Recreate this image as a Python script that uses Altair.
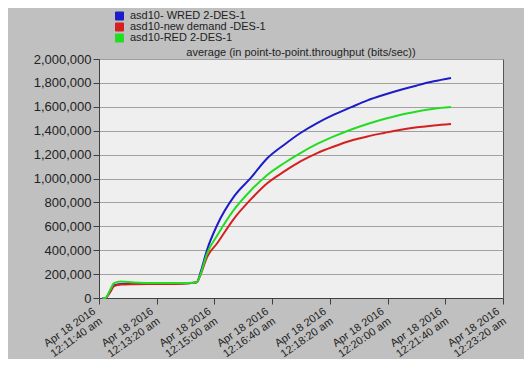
import altair as alt
import pandas as pd

# seconds after 12:11:40 am, Apr 18 2016
t_sec = [6, 11, 20, 26, 38, 60, 100, 140, 165, 170, 176, 187, 205, 234, 263,
         292, 321, 349, 378, 407, 436, 465, 494, 523, 551, 580, 610]

wred = [0, 0, 60000, 105000, 118000, 120000, 120000, 122000, 128000, 135000, 215000,
        400000, 613000, 850000, 1005000, 1171000, 1283000, 1381000, 1464000, 1534000,
        1595000, 1654000, 1701000, 1743000, 1779000, 1813000, 1841000]
new_demand = [0, 0, 55000, 100000, 112000, 115000, 117000, 120000, 127000, 135000, 195000,
              340000, 460000, 665000, 825000, 962000, 1059000, 1143000, 1213000, 1268000,
              1316000, 1352000, 1381000, 1408000, 1428000, 1444000, 1456000]
red = [0, 0, 75000, 125000, 138000, 130000, 125000, 125000, 128000, 135000, 200000,
       370000, 525000, 740000, 900000, 1032000, 1130000, 1213000, 1289000, 1352000,
       1408000, 1456000, 1498000, 1534000, 1561000, 1584000, 1598000]

series_names = ["asd10- WRED  2-DES-1", "asd10-new demand -DES-1", "asd10-RED 2-DES-1"]
series_colors = ["#1c1cc8", "#d42020", "#22dd22"]
tick_seconds = [0, 100, 200, 300, 400, 500, 600, 700]

base_time = pd.Timestamp("2016-04-18T00:11:40")

def ts(s):
    return (base_time + pd.Timedelta(seconds=s)).strftime("%Y-%m-%dT%H:%M:%S")

rows = []
for name, vals in zip(series_names, [wred, new_demand, red]):
    for t, v in zip(t_sec, vals):
        rows.append({"time": ts(t), "value": v, "series": name})
df = pd.DataFrame(rows)

tick_values = [alt.DateTime(year=2016, month=4, date=18, hours=0,
                            minutes=11 + (40 + s) // 60, seconds=(40 + s) % 60)
               for s in tick_seconds]
domain = [tick_values[0], tick_values[-1]]

base = alt.Chart(df).encode(
    x=alt.X("time:T",
            scale=alt.Scale(domain=domain, nice=False),
            axis=alt.Axis(values=tick_values, title=None, grid=False,
                          labelExpr="[timeFormat(datum.value, '%b %d %Y'), lower(timeFormat(datum.value, '%I:%M:%S %p'))]",
                          labelAngle=325, labelAlign="right", labelBaseline="middle",
                          labelFontSize=11, labelFont="Liberation Sans", labelColor="#222",
                          labelLineHeight=12, labelOverlap=False, labelPadding=6,
                          labelOffset=-5,
                          domainColor="#404040", tickColor="#404040", tickSize=6)),
    y=alt.Y("value:Q",
            scale=alt.Scale(domain=[0, 2000000], nice=False),
            axis=alt.Axis(values=list(range(0, 2000001, 200000)), format=",d", title=None,
                          labelFontSize=13, labelFont="Liberation Sans", labelColor="#222",
                          gridColor="#a0a0a0", gridWidth=1,
                          domainColor="#404040", tickColor="#404040", tickSize=6,
                          labelPadding=2)),
    color=alt.Color("series:N",
                    scale=alt.Scale(domain=series_names, range=series_colors),
                    legend=alt.Legend(title=None, orient="none", legendX=15, legendY=-48,
                                      symbolType="square", symbolSize=64,
                                      symbolStrokeColor="#303030", symbolStrokeWidth=1,
                                      labelFontSize=11, labelFont="Liberation Sans",
                                      labelColor="#222", rowPadding=0, clipHeight=10,
                                      labelOffset=5)),
)

squares = base.mark_square(size=0, filled=True, opacity=1)
lines = base.mark_line(strokeWidth=2, interpolate="monotone")

chart = alt.layer(squares, lines).properties(
    width=404, height=239,
    title=alt.TitleParams("average (in point-to-point.throughput (bits/sec))",
                          fontSize=11, font="Liberation Sans", fontWeight="normal",
                          color="#222", anchor="middle", frame="group", offset=-47),
    background="#c0c0c0",
    padding={"left": 91, "top": 51, "right": 21, "bottom": 61},
    autosize=alt.AutoSizeParams(type="none"),
).configure_view(
    fill="#efefef", stroke="#555555", strokeWidth=1
)

chart.save("out.html", embed_options={"renderer": "svg", "actions": False})
